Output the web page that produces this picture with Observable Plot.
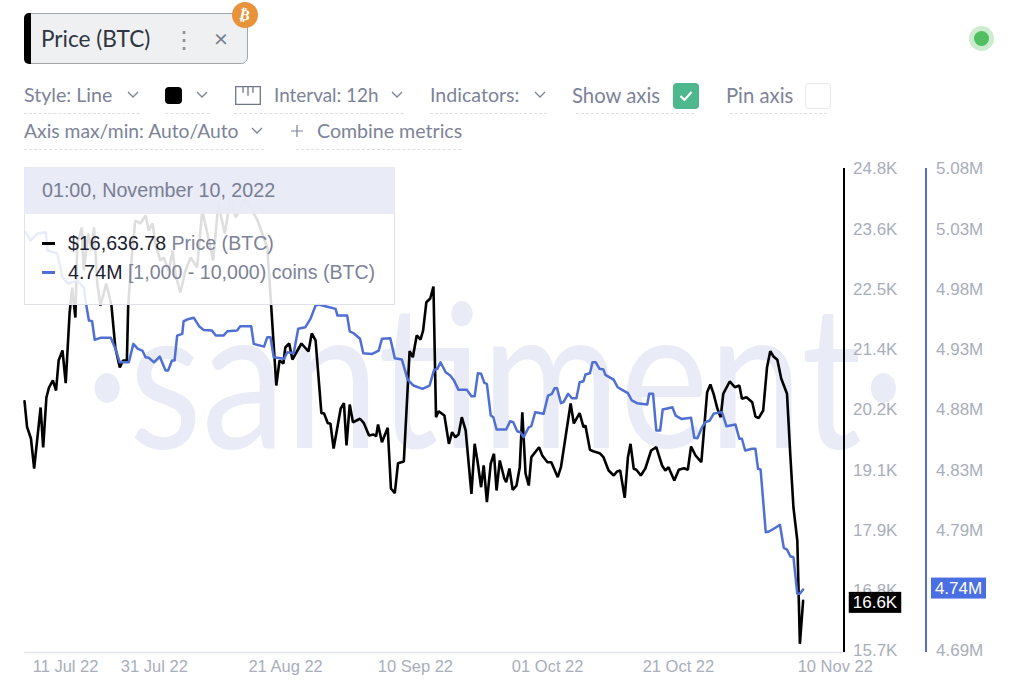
<!DOCTYPE html>
<html><head><meta charset="utf-8">
<script src="https://cdn.jsdelivr.net/npm/d3@7"></script>
<script src="https://cdn.jsdelivr.net/npm/@observablehq/plot@0.6"></script>
<style>
html,body{margin:0;padding:0;background:#fff;width:1024px;height:690px;overflow:hidden;}
#chart{position:absolute;left:0;top:0;}
.u{position:absolute;font-family:Lato,sans-serif;font-size:19.6px;color:#7c8398;white-space:nowrap;line-height:22px;}
.d{position:absolute;height:0;border-top:1.3px dashed #dcdfe6;}
.c{position:absolute;width:9px;height:9px;}
.c svg{display:block;overflow:visible;}
.t{position:absolute;font-family:"Liberation Sans",sans-serif;white-space:nowrap;}
</style></head><body>
<div id="chart"></div>

<!-- metric chip -->
<div style="position:absolute;left:24px;top:13px;width:224px;height:51px;background:#eef0f2;border:1.5px solid #a3a6ab;border-radius:7px;box-sizing:border-box;"></div>
<div style="position:absolute;left:24px;top:13px;width:7px;height:51px;background:#000;border-radius:5px 0 0 5px;"></div>
<div class="u" style="left:41px;top:26px;font-size:22.6px;color:#2f3442;line-height:26px;">Price (BTC)</div>
<div class="u" style="left:172px;top:27px;font-size:24px;line-height:24px;color:#8a8f9c;">⋮</div>
<div class="u" style="left:214px;top:26px;font-size:24px;line-height:24px;color:#777d8c;">×</div>
<div style="position:absolute;left:232px;top:2px;width:26px;height:26px;border-radius:50%;background:#e8933a;"></div>
<div style="position:absolute;left:232px;top:2px;width:26px;height:26px;line-height:26px;text-align:center;color:#fff;font:bold 15px/26px 'DejaVu Sans';transform:rotate(12deg);">₿</div>

<!-- status dot -->
<div style="position:absolute;left:969px;top:26px;width:25px;height:25px;border-radius:50%;background:#cdeccf;"></div>
<div style="position:absolute;left:974px;top:31px;width:15px;height:15px;border-radius:50%;background:#4fbf5f;"></div>

<!-- row 1 -->
<div class="u" style="left:24px;top:84px;">Style: Line</div>
<div class="c" style="left:127px;top:91px;"><svg width="12" height="7"><path d="M1 1l5 5 5-5" fill="none" stroke="#7c8398" stroke-width="1.3"/></svg></div>
<div style="position:absolute;left:165px;top:87px;width:17px;height:17px;background:#000;border-radius:4px;"></div>
<div class="c" style="left:196px;top:91px;"><svg width="12" height="7"><path d="M1 1l5 5 5-5" fill="none" stroke="#7c8398" stroke-width="1.3"/></svg></div>
<div class="c" style="left:235px;top:86px;"><svg width="26" height="19"><path d="M.7.7h24.6v17.6H.7zM8 .7v6M13 .7v9M18 .7v6" fill="none" stroke="#6f7687" stroke-width="1.3"/></svg></div>
<div class="u" style="left:274px;top:84px;font-size:18.9px;">Interval: 12h</div>
<div class="c" style="left:391px;top:91px;"><svg width="12" height="7"><path d="M1 1l5 5 5-5" fill="none" stroke="#7c8398" stroke-width="1.3"/></svg></div>
<div class="u" style="left:430px;top:84px;">Indicators:</div>
<div class="c" style="left:534px;top:91px;"><svg width="12" height="7"><path d="M1 1l5 5 5-5" fill="none" stroke="#7c8398" stroke-width="1.3"/></svg></div>
<div class="u" style="left:572px;top:84px;font-size:20.3px;">Show axis</div>
<div style="position:absolute;left:673px;top:83px;width:26px;height:26px;background:#4db78d;border-radius:4px;"></div>
<div class="c" style="left:679px;top:90px;"><svg width="14" height="12"><path d="M1.5 6l4 4 7-8" fill="none" stroke="#fff" stroke-width="2.2"/></svg></div>
<div class="u" style="left:726px;top:84px;font-size:20.3px;">Pin axis</div>
<div style="position:absolute;left:805px;top:83px;width:26px;height:26px;background:#fff;border:1.5px solid #e7e9ee;border-radius:4px;box-sizing:border-box;"></div>
<div class="d" style="left:24px;top:113px;width:116px;"></div>
<div class="d" style="left:165px;top:113px;width:45px;"></div>
<div class="d" style="left:234px;top:113px;width:170px;"></div>
<div class="d" style="left:430px;top:113px;width:117px;"></div>
<div class="d" style="left:576px;top:113px;width:118px;"></div>
<div class="d" style="left:730px;top:113px;width:97px;"></div>

<!-- row 2 -->
<div class="u" style="left:24px;top:120px;font-size:19.3px;">Axis max/min: Auto/Auto</div>
<div class="c" style="left:251px;top:127px;"><svg width="12" height="7"><path d="M1 1l5 5 5-5" fill="none" stroke="#7c8398" stroke-width="1.3"/></svg></div>
<div class="c" style="left:291px;top:125px;"><svg width="12" height="12"><path d="M6 0v12M0 6h12" fill="none" stroke="#7c8398" stroke-width="1.2"/></svg></div>
<div class="u" style="left:317px;top:120px;">Combine metrics</div>
<div class="d" style="left:24px;top:149px;width:240px;"></div>
<div class="d" style="left:296px;top:149px;width:165px;"></div>

<!-- tooltip -->
<div style="position:absolute;left:24px;top:167px;width:371px;height:138px;background:rgba(255,255,255,.87);border:1px solid #dfe2ea;box-sizing:border-box;"></div>
<div style="position:absolute;left:24px;top:167px;width:371px;height:47px;background:rgba(231,234,245,.93);"></div>
<div class="t" style="left:42px;top:179px;font-size:19.7px;line-height:22px;color:#777e92;">01:00, November 10, 2022</div>
<div style="position:absolute;left:42px;top:242px;width:13px;height:2.5px;background:#000;"></div>
<div class="t" style="left:68px;top:233px;font-size:19.6px;line-height:21px;color:#1d2230;">$16,636.78 <span style="color:#7c8398;">Price (BTC)</span></div>
<div style="position:absolute;left:42px;top:271px;width:13px;height:2.5px;background:#4f6fd3;"></div>
<div class="t" style="left:68px;top:262px;font-size:19.6px;line-height:21px;color:#1d2230;">4.74M <span style="color:#7c8398;">[1,000 - 10,000) coins (BTC)</span></div>

<script>
// Price (BTC) series: days since the first sample, USD
const priceDays = [0,0.4,1,1.5,2.5,2.9,3.4,3.8,4.4,4.9,5.3,5.9,6.4,7,7.4,7.9,8.2,8.9,9.2,9.9,10.4,10.8,11.3,11.8,12.7,13.5,14.1,14.8,15.3,15.9,16.1,16.7,17.2,18,18.8,19.3,19.9,20.3,21.1,21.6,22.4,23,23.4,24.2,25,25.8,26.8,27.6,28.4,29.3,30.1,31.1,32,32.8,34.3,36.2,37.7,38.3,39.1,39.6,40.2,40.5,41.1,41.6,43,44.1,44.6,45.2,46.1,46.5,47.1,47.5,48,49.1,49.6,50,50.5,51,52.1,52.7,53.5,54.2,54.6,54.9,55.5,56.4,56.9,57.5,58,58.9,59.8,60.3,60.9,61.5,61.9,62.4,63,63.5,63.9,64.3,65.2,65.9,66.4,66.9,67.4,67.9,68.5,69.4,69.9,70.4,70.9,71.3,71.8,72.4,72.9,73.3,73.8,74.5,74.8,75.3,75.8,76.4,76.9,77.3,77.8,78.3,78.7,79.9,80.4,81.2,81.8,82.8,83.3,84.8,85.3,86.2,86.8,87.1,87.8,88.3,89.3,89.9,90.7,91.5,92,92.5,93.2,93.7,94.1,94.6,95,95.7,96.4,97.3,98.1,99,99.5,100,100.9,101.6,102.4,103,103.5,104.2,105.1,106,106.5,107,107.6,108.1,108.5,109.5,110.3,111,111.4,112.1,113,113.5,114,114.7,115.3,115.8,116.3,116.9,117.5,118.4,118.9,119.4,120,120.4,120.9];
const priceValues = [20407,19916,19703,19136,20288,19533,20477,20665,20798,20609,21175,21364,20747,22063,22553,21987,23384,23686,22874,23573,23252,23686,22629,22214,22629,22214,21421,21043,21175,21175,22214,23195,23818,23762,23913,23630,23762,23384,23063,23120,22874,23252,22818,22459,22874,23120,22931,24007,23573,23063,24139,23573,24253,23875,24234,23818,23309,22214,20703,21175,21119,21421,21496,21194,21496,21345,21685,21553,20180,20180,19991,19986,19514,20269,20369,19570,20344,20010,20075,19991,19759,19778,19746,19967,19633,19905,18759,18670,19236,19268,21351,21238,21647,21572,21742,22276,22346,22572,20105,20218,20137,19602,19822,19727,19778,20105,19854,18658,19602,19225,18783,19193,18500,19231,19414,18721,19287,18947,18877,19136,18734,18815,19161,20199,19042,18815,19350,19538,19382,19255,19255,18972,19161,20363,19986,20180,19916,19948,19489,19463,19425,19350,19098,19004,19080,19098,18583,19350,19602,19131,19112,19004,19136,19476,19538,19193,19098,19161,18910,19112,19142,19112,19552,19382,19255,20577,20722,20546,20263,20105,20546,20779,20671,20703,20452,20482,20388,20118,20086,20231,21049,21351,21251,21188,20835,20546,19419,18400,17777,15826,16637];

// [1,000 - 10,000) coins (BTC) supply series: days since the first sample, millions of coins
const holderDays = [0.2,0.9,2,3.3,3.6,5.1,5.9,6.8,8.2,9.2,9.6,10,10.5,10.9,11.8,13.4,14.1,14.8,16.2,16.9,17.6,18.3,18.8,19.3,20.1,21,21.9,22.3,22.9,23.3,23.7,24.5,24.7,25.5,26.3,27.1,27.8,29.1,29.7,30.9,31.5,33,33.5,35.2,35.6,37.2,37.7,38.2,38.7,40.3,40.8,41.8,42.5,43.6,44.4,45.2,45.7,46.7,48.3,48.6,50.1,50.5,51.1,52.1,52.6,54,55,55.5,56.8,57.5,58.6,59.5,60.4,61.8,62.9,63.6,64.1,64.6,65.4,66.1,66.7,67.4,68.7,69.4,69.9,70.4,70.9,71.4,71.8,72.4,72.8,73.3,74.8,75.4,75.9,76.5,77,77.5,78.3,78.7,79.3,80.6,81.3,81.9,82.3,82.7,83.3,83.7,84.4,85,85.7,86.2,86.8,87.1,87.8,88.2,88.7,89.3,89.9,90.2,91,91.5,92.1,93,93.7,94.3,95.1,96.7,97,97.6,98.1,98.7,99.1,99.8,100.6,101.1,102,103.5,104,104.5,105.2,105.7,106.4,107,107.6,108.3,109,110.4,111,111.4,111.9,113,113.5,113.9,114.3,115.1,115.6,116.6,117.3,117.9,118.4,118.9,119.4,120,120.4,120.9];
const holderValues = [5.0284,5.0217,5.0274,5.0284,5.0136,5.0112,4.9918,4.9869,4.9893,4.9837,4.9691,4.957,4.9564,4.9414,4.943,4.943,4.9343,4.9232,4.9232,4.9381,4.9341,4.9327,4.9273,4.9268,4.9232,4.9278,4.9165,4.9165,4.9246,4.9246,4.9448,4.9462,4.9564,4.9583,4.9592,4.9524,4.9494,4.9489,4.9448,4.9448,4.9483,4.9489,4.9524,4.9524,4.9381,4.9359,4.9435,4.9435,4.9273,4.926,4.9313,4.9305,4.9503,4.9515,4.9583,4.9691,4.9699,4.9685,4.9664,4.961,4.961,4.9483,4.9467,4.9422,4.9305,4.93,4.9327,4.9422,4.9427,4.9265,4.9254,4.9092,4.9044,4.9017,4.9044,4.9171,4.9179,4.9232,4.9151,4.9125,4.9084,4.9009,4.9009,4.8957,4.8957,4.9143,4.9139,4.9066,4.9058,4.8801,4.8787,4.8688,4.8688,4.8755,4.8747,4.8674,4.8666,4.8626,4.8706,4.8715,4.8828,4.8815,4.8963,4.8977,4.9022,4.9022,4.8901,4.8909,4.8977,4.8941,4.8941,4.9071,4.9079,4.9133,4.9143,4.9232,4.9232,4.9179,4.9173,4.913,4.9106,4.909,4.903,4.9003,4.8982,4.8923,4.8901,4.889,4.8977,4.8977,4.868,4.868,4.885,4.8858,4.8868,4.8801,4.8774,4.8783,4.8621,4.8617,4.8706,4.8747,4.8761,4.8815,4.8823,4.8828,4.8715,4.8728,4.8613,4.8613,4.8518,4.8532,4.8532,4.837,4.8364,4.7857,4.7863,4.7893,4.7917,4.7731,4.7717,4.7663,4.7655,4.7359,4.7359,4.7393];

// axes
const priceTicks = [15700,16837.5,17975,19112.5,20250,21387.5,22525,23662.5,24800];
const priceLabels = ["15.7K","16.8K","17.9K","19.1K","20.2K","21.4K","22.5K","23.6K","24.8K"];
const holderTicks = [4.69,4.73875,4.7875,4.83625,4.885,4.93375,4.9825,5.03125,5.08];
const holderLabels = ["4.69M","4.74M","4.79M","4.83M","4.88M","4.93M","4.98M","5.03M","5.08M"];
const dateTicks = ["2022-07-11","2022-07-31","2022-08-21","2022-09-10","2022-10-01","2022-10-21","2022-11-10"];
const dateLabels = ["11 Jul 22","31 Jul 22","21 Aug 22","10 Sep 22","01 Oct 22","21 Oct 22","10 Nov 22"];

const lastPrice = 16637, lastPriceLabel = "16.6K";
const lastHolders = 4.7393, lastHoldersLabel = "4.74M";

const DAY = 864e5;
const start = new Date("2022-07-11T11:00:00Z");
const end = new Date(+start + 127.25 * DAY);
const when = d => new Date(+start + d * DAY);
const tickDates = dateTicks.map(s => new Date(s + "T00:00:00Z"));

// the holders series shares the plot through a second linear axis
const holdersToPrice = d3.scaleLinear([4.69, 5.08], [15700, 24800]);

const priceRows = priceDays.map((d, i) => ({date: when(d), v: priceValues[i]}));
const holderRows = holderDays.map((d, i) => ({date: when(d), v: holdersToPrice(holderValues[i])}));

const AXIS = "#a9aebb", GAP = 82, BLUE = "#4f6fd3";
const bottom = 15662;

const dateAxis = (i, dx) => Plot.axisX({
  ticks: [tickDates[i]], tickSize: 0, tickPadding: 10, dx, fontSize: 16.5,
  tickFormat: () => dateLabels[i], fill: AXIS, label: null, anchor: "bottom"
});

function box(value, label, fill, dx, w, dy) {
  return (index, {y}, values, {width, marginRight}) => {
    const g = d3.create("svg:g");
    const cx = width - marginRight + dx, cy = y(value) + dy;
    g.append("rect").attr("x", cx - w / 2).attr("y", cy - 10.5).attr("width", w).attr("height", 21).attr("fill", fill);
    g.append("text").attr("x", cx).attr("y", cy).attr("dy", "0.34em").attr("text-anchor", "middle")
      .attr("fill", "#fff").attr("font-size", 17).text(label);
    return g.node();
  };
}

const plot = Plot.plot({
  width: 1024, height: 690,
  marginLeft: 24, marginRight: 1024 - 843.5, marginTop: 168, marginBottom: 40,
  style: {fontFamily: "'Liberation Sans', sans-serif", fontSize: "17px", background: "transparent", overflow: "visible"},
  x: {type: "utc", domain: [start, end], axis: null},
  y: {domain: [15700, 24800], axis: null},
  marks: [
    Plot.text(["·santiment·"], {frameAnchor: "middle", dx: 61, dy: -26, fontSize: 200, fontFamily: "Lato", fontWeight: 400, fill: "#e9ebf6", className: "wm"}),
    Plot.ruleY([bottom], {stroke: "#e4e6ec", strokeWidth: 1.5}),
    dateAxis(0, 44), dateAxis(1, 4), dateAxis(2, 0), dateAxis(3, 1), dateAxis(4, -2), dateAxis(5, 0), dateAxis(6, 28),
    Plot.axisY({anchor: "right", ticks: priceTicks, tickSize: 0, tickPadding: 9, dy: 0.5, textAnchor: "start", fill: AXIS, label: null,
      tickFormat: (d) => priceLabels[priceTicks.indexOf(d)]}),
    Plot.axisY({anchor: "right", ticks: holderTicks.map(holdersToPrice), tickSize: 0, tickPadding: 10, dy: 0.5, textAnchor: "start", fill: AXIS, label: null, dx: GAP,
      tickFormat: (d) => holderLabels[holderTicks.map(holdersToPrice).indexOf(d)]}),
    Plot.ruleX([end], {y1: bottom, y2: 24800, stroke: "#000", strokeWidth: 2}),
    Plot.ruleX([end], {y1: bottom, y2: 24800, stroke: BLUE, strokeWidth: 2, dx: GAP}),
    Plot.line(priceRows, {x: "date", y: "v", stroke: "#000", strokeWidth: 2.6, strokeLinejoin: "miter", curve: "linear"}),
    Plot.line(holderRows, {x: "date", y: "v", stroke: BLUE, strokeWidth: 2.5, curve: "linear"}),
    box(lastPrice, lastPriceLabel, "#000", 31.5, 52.5, 2),
    box(holdersToPrice(lastHolders), lastHoldersLabel, "#4a6fe3", 115, 55, -1)
  ]
});
document.getElementById("chart").append(plot);
const wm = plot.querySelector(".wm text");
if (wm) { wm.setAttribute("textLength", 820); wm.setAttribute("lengthAdjust", "spacingAndGlyphs"); }
</script>
</body></html>
